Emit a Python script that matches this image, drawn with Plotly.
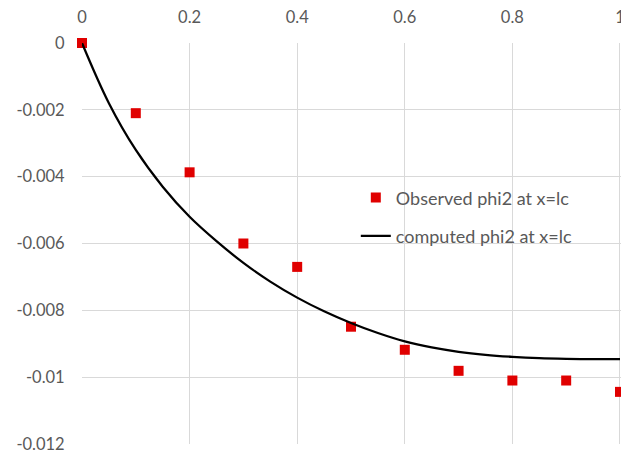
import plotly.graph_objects as go

# Observed data (markers)
obs_x = [0, 0.1, 0.2, 0.3, 0.4, 0.5, 0.6, 0.7, 0.8, 0.9, 1.0]
obs_y = [0, -0.0021, -0.00387, -0.0060, -0.0067, -0.00849, -0.00918, -0.00981, -0.0101, -0.0101, -0.01044]

# Computed curve (every 0.05)
comp_x = [0, 0.05, 0.1, 0.15, 0.2, 0.25, 0.3, 0.35, 0.4, 0.45, 0.5,
          0.55, 0.6, 0.65, 0.7, 0.75, 0.8, 0.85, 0.9, 0.95, 1.0]
comp_y = [0, -0.0018, -0.0032, -0.0043, -0.0052, -0.00593, -0.00658, -0.00714, -0.00762, -0.00803, -0.00838,
          -0.00868, -0.00893, -0.00911, -0.00924, -0.00933, -0.00939, -0.00943, -0.00945, -0.00946, -0.00946]

x_tickvals = [0, 0.2, 0.4, 0.6, 0.8, 1.0]
x_ticktext = ["0", "0.2", "0.4", "0.6", "0.8", "1"]
y_tickvals = [0, -0.002, -0.004, -0.006, -0.008, -0.01, -0.012]
y_ticktext = ["0", "-0.002", "-0.004", "-0.006", "-0.008", "-0.01", "-0.012"]

FONT = "Lato, 'Open Sans', sans-serif"
GRID = "#d9d9d9"
TXT = "#595959"

fig = go.Figure()
fig.add_trace(go.Scatter(
    x=obs_x, y=obs_y, mode="markers", name="Observed phi2 at x=lc",
    marker=dict(symbol="square", size=10, color="#e00000"),
    legendgroup="a", cliponaxis=False,
))
fig.add_trace(go.Scatter(
    x=comp_x, y=comp_y, mode="lines", name="computed phi2 at x=lc",
    line=dict(color="black", width=2.25, shape="spline", smoothing=1.0),
    legendgroup="b",
))

fig.update_layout(
    width=621, height=455,
    margin=dict(l=82, r=0, t=43, b=11, autoexpand=False),
    paper_bgcolor="white", plot_bgcolor="white",
    font=dict(family=FONT, color=TXT, size=16.5),
    showlegend=True,
    legend=dict(
        x=0.508, y=0.66, xanchor="left", yanchor="top",
        bgcolor="rgba(0,0,0,0)", font=dict(size=18, color=TXT),
        traceorder="grouped", tracegroupgap=12,
    ),
    xaxis=dict(
        side="top", range=[0, 1.0019],
        tickvals=x_tickvals, ticktext=x_ticktext,
        showgrid=True, gridcolor=GRID, gridwidth=1.3,
        zeroline=False, showline=False,
        ticks="outside", ticklen=12, tickcolor="rgba(0,0,0,0)",
        tickfont=dict(size=16.5, color=TXT),
        ticklabeloverflow="allow",
    ),
    yaxis=dict(
        range=[-0.012, 0],
        tickvals=y_tickvals, ticktext=y_ticktext,
        showgrid=True, gridcolor=GRID, gridwidth=1.3,
        zeroline=False, showline=False,
        ticks="outside", ticklen=13, tickcolor="rgba(0,0,0,0)",
        tickfont=dict(size=16.5, color=TXT),
    ),
)

fig.write_html(
    "out.html",
    config={"displayModeBar": False},
    post_script="document.body.style.margin='0';document.body.style.padding='0';",
)
